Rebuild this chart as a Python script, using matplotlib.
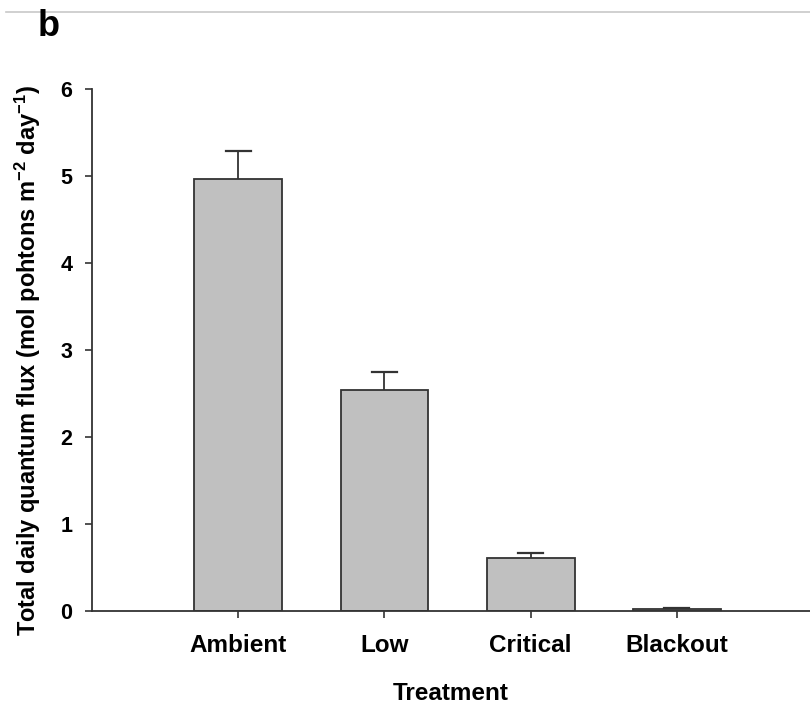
import matplotlib
matplotlib.use("Agg")
import matplotlib.pyplot as plt
from matplotlib.lines import Line2D

categories = ["Ambient", "Low", "Critical", "Blackout"]
values = [4.97, 2.54, 0.61, 0.02]
errors = [0.32, 0.21, 0.06, 0.01]
yticks = [0, 1, 2, 3, 4, 5, 6]

plt.rcParams['font.family'] = ['Liberation Sans', 'DejaVu Sans']
plt.rcParams['font.weight'] = 'bold'
plt.rcParams['mathtext.fontset'] = 'custom'
plt.rcParams['mathtext.rm'] = 'Liberation Sans:bold'
plt.rcParams['mathtext.bf'] = 'Liberation Sans:bold'
plt.rcParams['mathtext.default'] = 'rm'

fig = plt.figure(figsize=(8.1, 7.03), dpi=100)
W, H = 810, 703
ax = fig.add_axes([92 / W, 1 - 611 / H, (810 - 92) / W, (611 - 89) / H])

x = list(range(len(categories)))
ax.bar(x, values, width=0.6, color="#c0c0c0", edgecolor="#333333", linewidth=1.3,
       yerr=[[0] * len(errors), errors], capsize=0,
       error_kw=dict(ecolor="#333333", elinewidth=1.3), zorder=2)
for xi, v, e in zip(x, values, errors):
    ax.plot([xi - 0.085, xi + 0.085], [v + e, v + e], color="#333333", lw=1.6, zorder=3)

ax.set_xlim(-1.0, 3.91)
ax.set_ylim(0, 6)
ax.set_yticks(yticks)
ax.set_xticks(x)
ax.set_xticklabels(categories)
ax.tick_params(axis='both', direction='out', length=5.3, width=1.2, color="#333333")
ax.tick_params(axis='y', pad=9, labelsize=15.5)
ax.tick_params(axis='x', pad=11, labelsize=17.5)
for lbl in ax.get_xticklabels() + ax.get_yticklabels():
    lbl.set_fontweight('bold')

for s in ['top', 'right']:
    ax.spines[s].set_visible(False)
for s in ['left', 'bottom']:
    ax.spines[s].set_color("#333333")
    ax.spines[s].set_linewidth(1.3)

ax.set_xlabel("Treatment", fontsize=17.5, fontweight='bold')
ax.xaxis.set_label_coords(0.5, -(693 - 611) / (611 - 89))
ax.xaxis.label.set_va('center')
ax.set_ylabel(r"Total daily quantum flux (mol pohtons m$^{-2}$ day$^{-1}$)",
              fontsize=17, fontweight='bold')
ax.yaxis.set_label_coords(-(92 - 28) / (810 - 92), (611 - 361) / (611 - 89))
ax.yaxis.label.set_va('center')

fig.text(38 / W, 1 - 26 / H, "b", fontsize=26, fontweight='bold', va='center', ha='left')
fig.add_artist(Line2D([6 / W, 1.0], [1 - 12 / H, 1 - 12 / H], color="#c8c8c8", lw=1.2,
                      transform=fig.transFigure))

fig.savefig("out.png", dpi=100)
